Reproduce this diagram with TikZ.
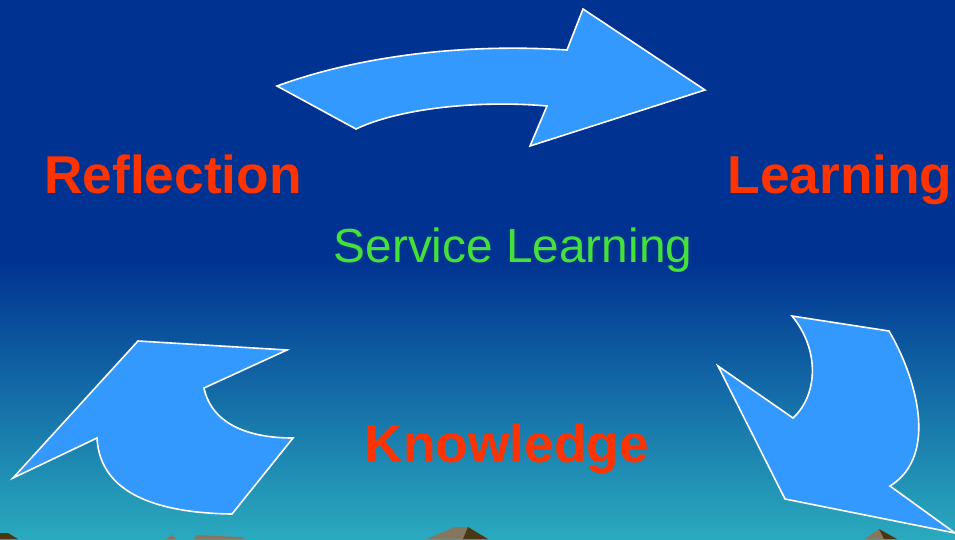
\documentclass[tikz,border=0pt]{standalone}
\usepackage{fontspec}
\setmainfont{Liberation Sans}
\usepackage{tikz}
\usetikzlibrary{positioning}
\definecolor{skytop}{RGB}{0,51,145}
\definecolor{skybot}{RGB}{42,170,190}
\definecolor{arrowblue}{RGB}{51,153,255}
\definecolor{wordred}{RGB}{255,51,0}
\definecolor{wordgreen}{RGB}{68,226,56}
\definecolor{rocklight}{RGB}{133,118,95}
\definecolor{rockdark}{RGB}{75,55,20}
\tikzstyle{blockarrow}=[fill=arrowblue, draw=white, line width=1.6pt, line join=miter]
\tikzstyle{stage}=[anchor=base, inner sep=0pt, text=wordred,
		font=\fontsize{53.3}{60}\selectfont\bfseries]
\tikzstyle{centre}=[anchor=base, inner sep=0pt, text=wordgreen,
		font=\fontsize{47.8}{55}\selectfont]

\begin{document}
\begin{tikzpicture}[x=1pt,y=-1pt]

    \useasboundingbox (0,0) rectangle (955,539);
    \fill[skytop] (0,0) rectangle (955,262);
    \shade[top color=skytop, bottom color=skybot] (0,261) rectangle (955,539);

    % rocks along the lower edge
    \fill[rockdark] (0,533) -- (8,533) -- (18,539) -- (0,539) -- cycle;
    \fill[rocklight] (166,539) -- (172,535) -- (176,539) -- cycle;
    \fill[rocklight] (194,539) -- (197,535) -- (240,537) -- (245,539) -- cycle;
    \fill[rocklight] (427,539) -- (455,527) -- (468,527) -- (463,539) -- cycle;
    \fill[rockdark] (468,527) -- (488,539) -- (463,539) -- cycle;
    \fill[rocklight] (865,539) -- (879,529) -- (884,539) -- cycle;
    \fill[rockdark] (879,529) -- (897,539) -- (884,539) -- cycle;

    % the three arrows of the cycle
    \draw[blockarrow] (277,86) .. controls (370,52) and (480,44) .. (567,50)
        -- (583,9) -- (705,90) -- (530,146) -- (547,106)
        .. controls (480,100) and (400,108) .. (356,129) -- cycle;

    \draw[blockarrow] (792,316) -- (889,331)
        .. controls (915,375) and (940,455) .. (890,486)
        -- (955,533) -- (785,499) -- (718,366) -- (793,418)
        .. controls (818,395) and (820,350) .. (792,316) -- cycle;

    \draw[blockarrow] (138,341) -- (287,350) -- (204,388)
        .. controls (212,425) and (250,438) .. (293,438)
        -- (232,514) .. controls (160,513) and (100,495) .. (97,438)
        -- (13,478) -- cycle;

    \node (Refl) [stage] at (173,193) {Reflection};
    \node (Lrn) [stage] at (840,193) {Learning};
    \node (Know) [stage] at (507,462) {Knowledge};
    \node (SL) [centre] at (513,262) {Service Learning};

\end{tikzpicture}
\end{document}
